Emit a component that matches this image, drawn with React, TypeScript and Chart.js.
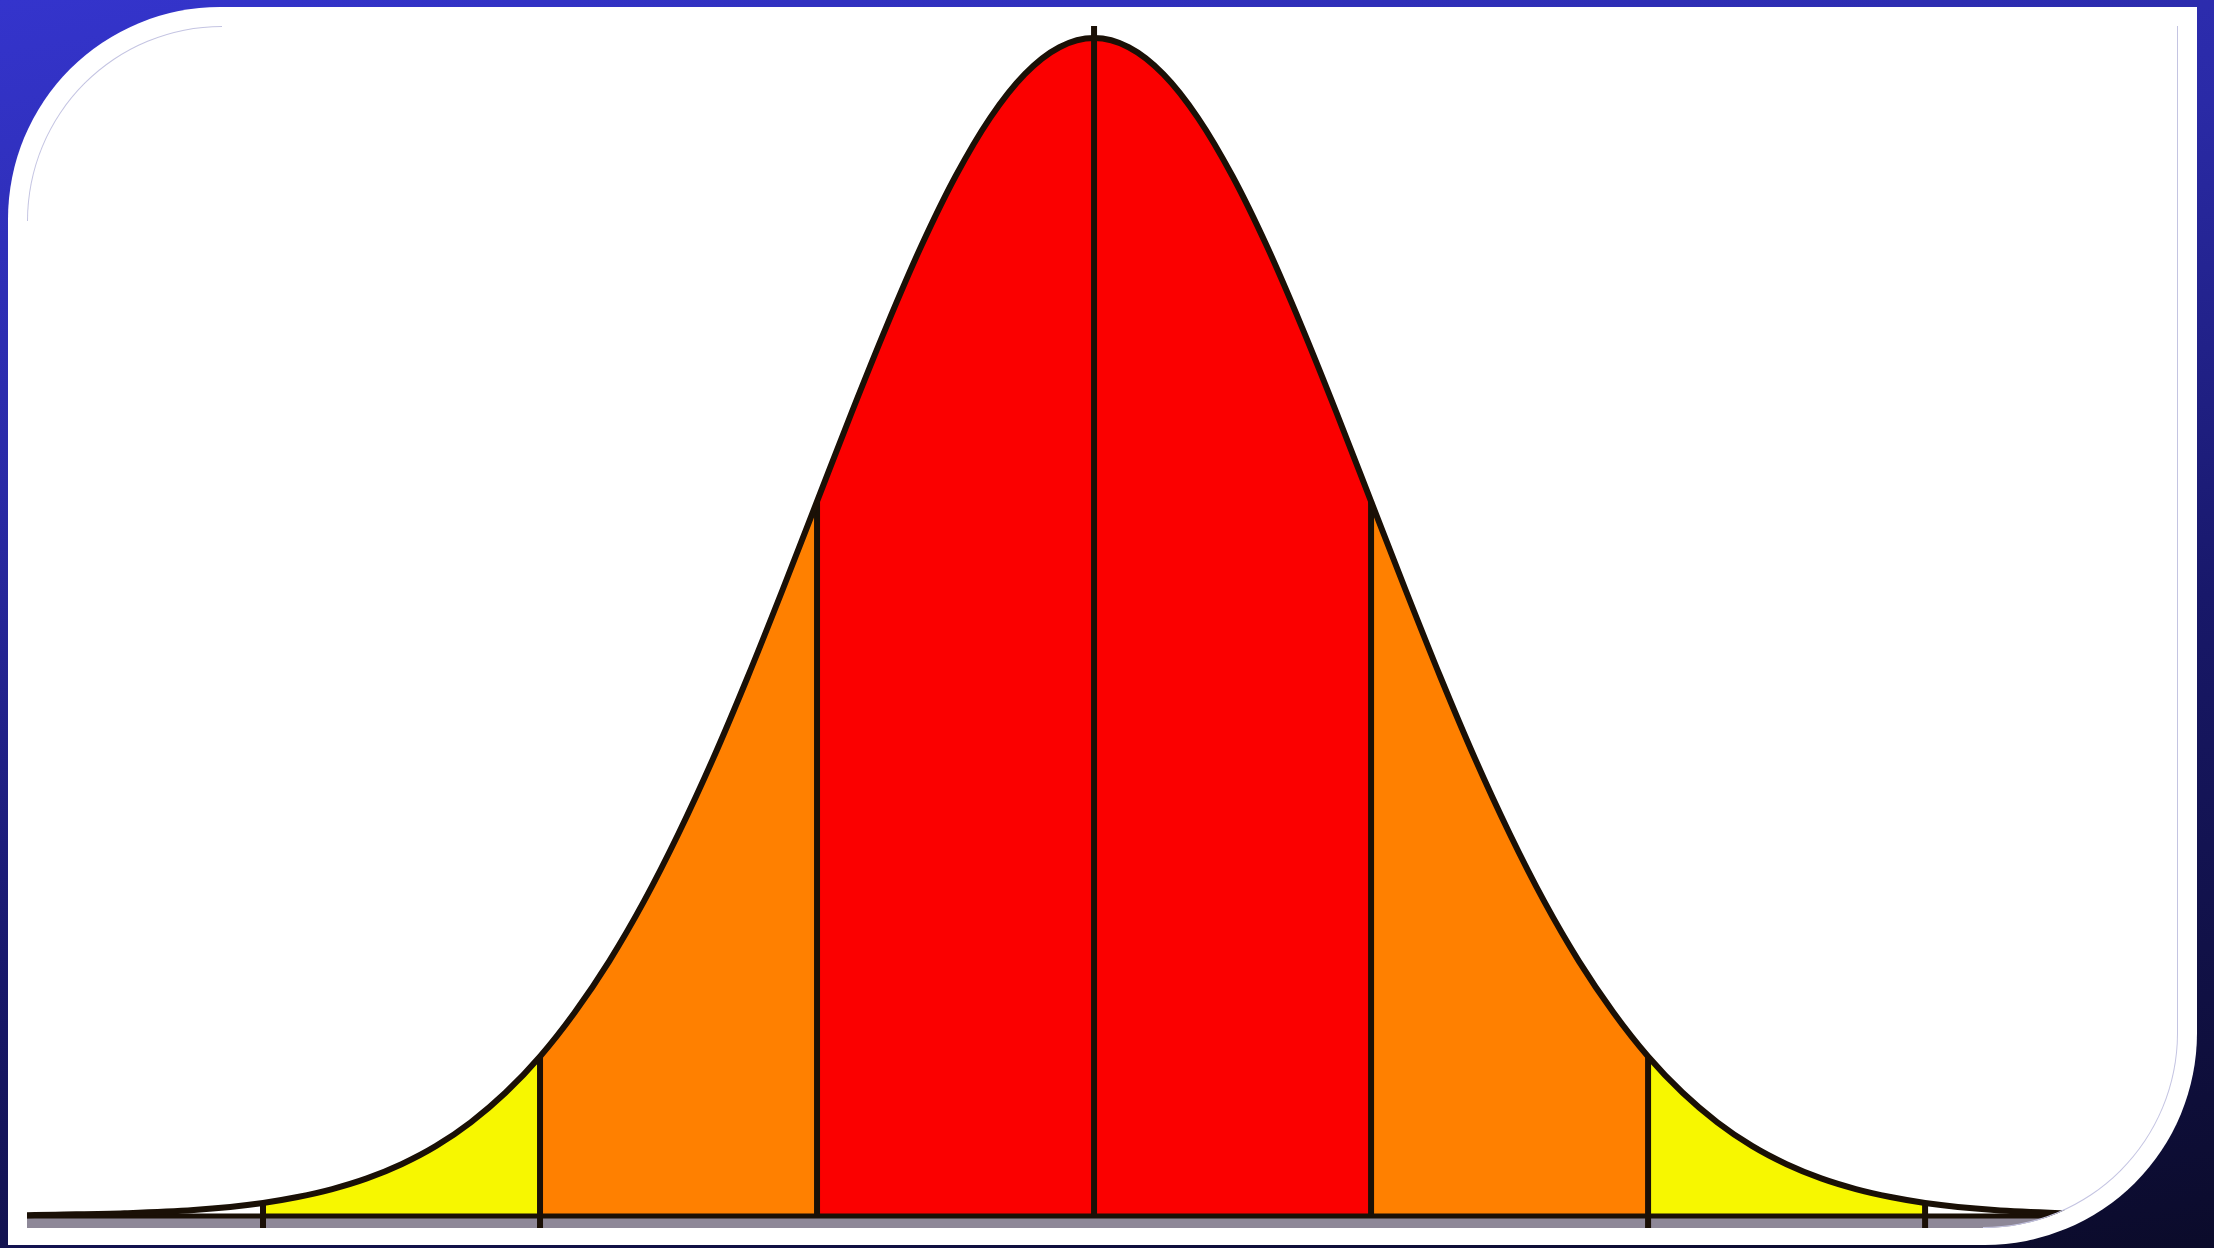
import React, { useEffect, useRef } from "react";
import { Chart, registerables } from "chart.js";

Chart.register(...registerables);

// Positions along the x axis, in standard deviations from the mean
const sigmaX = [
  -3.86, -3.75, -3.5, -3.25, -3, -2.875, -2.75, -2.625, -2.5, -2.375, -2.25, -2.125,
  -2, -1.875, -1.75, -1.625, -1.5, -1.375, -1.25, -1.125, -1, -0.875, -0.75, -0.625,
  -0.5, -0.375, -0.25, -0.125, 0, 0.125, 0.25, 0.375, 0.5, 0.625, 0.75, 0.875, 1,
  1.125, 1.25, 1.375, 1.5, 1.625, 1.75, 1.875, 2, 2.125, 2.25, 2.375, 2.5, 2.625,
  2.75, 2.875, 3, 3.25, 3.5, 3.75, 3.92,
];
// Curve height read at each position
const density = [
  0.0002, 0.0004, 0.0009, 0.002, 0.0044, 0.0064, 0.0091, 0.0127, 0.0175, 0.0237,
  0.0317, 0.0417, 0.054, 0.0689, 0.0863, 0.1065, 0.1295, 0.1549, 0.1826, 0.2119,
  0.242, 0.2721, 0.3011, 0.3282, 0.3521, 0.3719, 0.3867, 0.3958, 0.3989, 0.3958,
  0.3867, 0.3719, 0.3521, 0.3282, 0.3011, 0.2721, 0.242, 0.2119, 0.1826, 0.1549,
  0.1295, 0.1065, 0.0863, 0.0689, 0.054, 0.0417, 0.0317, 0.0237, 0.0175, 0.0127,
  0.0091, 0.0064, 0.0044, 0.002, 0.0009, 0.0004, 0.0002,
];
// Shaded bands between the sigma markers
const bandFrom = [-3, -2, -1, 1, 2];
const bandTo = [-2, -1, 1, 2, 3];
const bandColors = ["#f7f700", "#ff8000", "#fb0000", "#ff8000", "#f7f700"];
// Vertical marker lines
const markerX = [-3, -2, -1, 0, 1, 2, 3];

const X_MIN = -3.852;
const X_MAX = 3.913;
const Y_MIN = -0.0041;
const Y_MAX = 0.403;

const LINE = "#1a1006";

function heightAt(x: number): number {
  const i = sigmaX.indexOf(x);
  return i >= 0 ? density[i] : 0;
}

const stripPlugin = {
  id: "baseStrip",
  beforeDatasetsDraw(chart: any) {
    const { ctx, chartArea, scales } = chart;
    const y0 = scales.y.getPixelForValue(0);
    ctx.save();
    ctx.fillStyle = "#8e8898";
    ctx.fillRect(chartArea.left, y0, chartArea.right - chartArea.left, chartArea.bottom - y0);
    ctx.restore();
  },
};

function BellChart() {
  const ref = useRef<HTMLCanvasElement | null>(null);
  useEffect(() => {
    if (!ref.current) return;
    const datasets: any[] = [];

    // curve outline
    datasets.push({
      data: sigmaX.map((x, i) => ({ x, y: density[i] })),
      borderColor: LINE,
      borderWidth: 6,
      pointRadius: 0,
      fill: false,
      cubicInterpolationMode: "monotone",
      order: 1,
    });
    // baseline
    datasets.push({
      data: [
        { x: X_MIN, y: 0 },
        { x: X_MAX, y: 0 },
      ],
      borderColor: LINE,
      borderWidth: 5,
      pointRadius: 0,
      fill: false,
      order: 2,
    });
    // vertical markers
    markerX.forEach((mx) => {
      const top = mx === 0 ? Y_MAX : heightAt(mx);
      const bottom = Math.abs(mx) === 1 || mx === 0 ? 0 : Y_MIN;
      datasets.push({
        data: [
          { x: mx, y: bottom },
          { x: mx, y: top },
        ],
        borderColor: LINE,
        borderWidth: 6,
        pointRadius: 0,
        fill: false,
        order: 3,
      });
    });
    // colored bands
    bandFrom.forEach((from, b) => {
      const to = bandTo[b];
      const pts = sigmaX
        .map((x, i) => ({ x, y: density[i] }))
        .filter((p) => p.x >= from && p.x <= to);
      datasets.push({
        data: pts,
        borderWidth: 0,
        borderColor: "rgba(0,0,0,0)",
        backgroundColor: bandColors[b],
        pointRadius: 0,
        fill: "origin",
        cubicInterpolationMode: "monotone",
        order: 10,
      });
    });

    const chart = new Chart(ref.current, {
      type: "line",
      data: { datasets },
      options: {
        animation: false,
        responsive: false,
        maintainAspectRatio: false,
        layout: { padding: 0 },
        plugins: { legend: { display: false }, tooltip: { enabled: false } },
        scales: {
          x: { type: "linear", min: X_MIN, max: X_MAX, display: false },
          y: { type: "linear", min: Y_MIN, max: Y_MAX, display: false },
        },
      },
      plugins: [stripPlugin],
    } as any);
    return () => chart.destroy();
  }, []);
  return <canvas ref={ref} width={2151} height={1202} style={{ display: "block" }} />;
}

export default function App() {
  const lav = "#c4c4e2";
  return (
    <div
      style={{
        position: "fixed",
        left: 0,
        top: 0,
        width: 2214,
        height: 1248,
        overflow: "hidden",
        background: "linear-gradient(170deg, #3434cc 0%, #2a2aa6 30%, #18186a 60%, #0b0b2a 100%)",
      }}
    >
      <div
        style={{
          position: "absolute",
          left: 8,
          top: 7,
          width: 2189,
          height: 1238,
          background: "#ffffff",
          borderTopLeftRadius: 212,
          borderBottomRightRadius: 212,
        }}
      />
      <div
        style={{
          position: "absolute",
          left: 27,
          top: 26,
          width: 2151,
          height: 1202,
          overflow: "hidden",
          borderTopLeftRadius: 195,
          borderBottomRightRadius: 195,
          background: "#ffffff",
        }}
      >
        <BellChart />
      </div>
      {/* thin inner outline: top-left arc */}
      <div
        style={{
          position: "absolute",
          left: 27,
          top: 26,
          width: 195,
          height: 195,
          boxSizing: "border-box",
          borderTop: `1px solid ${lav}`,
          borderLeft: `1px solid ${lav}`,
          borderTopLeftRadius: 195,
        }}
      />
      {/* right edge + bottom-right arc */}
      <div
        style={{
          position: "absolute",
          left: 2177,
          top: 26,
          width: 1,
          height: 1007,
          background: lav,
        }}
      />
      <div
        style={{
          position: "absolute",
          left: 1983,
          top: 1033,
          width: 195,
          height: 195,
          boxSizing: "border-box",
          borderRight: `1px solid ${lav}`,
          borderBottom: `1px solid ${lav}`,
          borderBottomRightRadius: 195,
        }}
      />
    </div>
  );
}
